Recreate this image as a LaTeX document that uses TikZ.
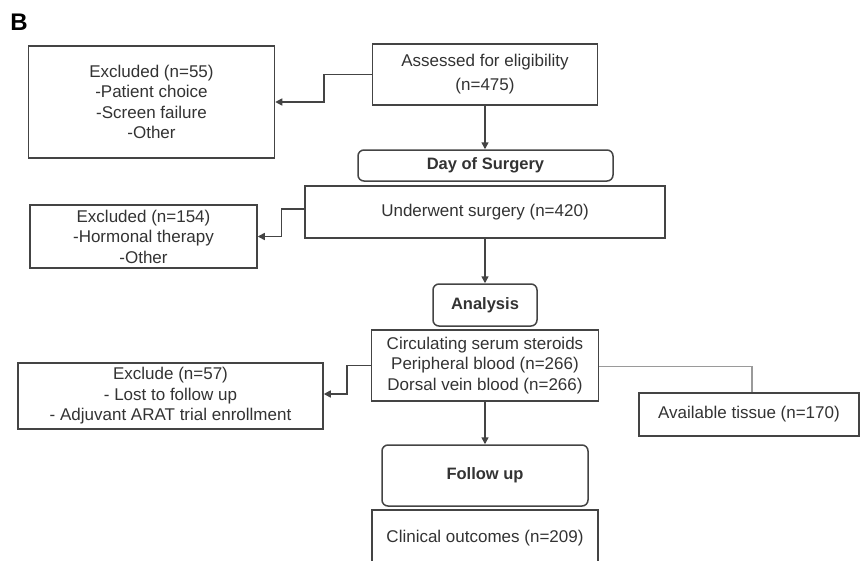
\documentclass[tikz,border=0pt]{standalone}
\usepackage{fontspec}
\setmainfont{Liberation Sans}
\usetikzlibrary{arrows.meta}
\definecolor{txt}{HTML}{333333}
\definecolor{ln}{HTML}{444444}
\definecolor{lgray}{HTML}{9A9A9A}
\begin{document}
\begin{tikzpicture}[x=1pt,y=-1pt,
  every node/.style={inner sep=0pt,align=center,text=txt,font=\fontsize{17}{20.5}\selectfont},
  box/.style={draw=ln,line width=1.5pt,rectangle},
  rbox/.style={draw=ln,line width=1.5pt,rectangle,rounded corners=6pt,font=\fontsize{16.5}{20}\selectfont\bfseries},
  arr/.style={draw=ln,line width=1.5pt,-{Triangle[width=7pt,length=7pt]}},
  conn/.style={draw=lgray,line width=1.2pt}]
\useasboundingbox (0,0) rectangle (860,560);
\clip (0,0) rectangle (860,560);
\fill[white] (0,0) rectangle (860,560);
\node[font=\fontsize{24}{26}\selectfont\bfseries,text=black] (lab) at (19,22) {B};
\node[box,minimum width=225pt,minimum height=61pt,font=\fontsize{17}{24}\selectfont] (assess) at (485,74.5) {Assessed for eligibility\\(n=475)};
\node[box,minimum width=246pt,minimum height=112pt] (ex1) at (151.5,102) {Excluded (n=55)\\-Patient choice\\-Screen failure\\-Other};
\node[rbox,minimum width=255pt,minimum height=31pt] (day) at (485.5,165.5) {Day of Surgery};
\node[box,minimum width=360pt,minimum height=52pt] (surg) at (485,212) {Underwent surgery (n=420)};
\node[box,minimum width=227pt,minimum height=63pt] (ex2) at (143.5,236.5) {Excluded (n=154)\\-Hormonal therapy\\-Other};
\node[rbox,minimum width=104pt,minimum height=42pt] (ana) at (485,305) {Analysis};
\node[box,minimum width=227pt,minimum height=71pt] (circ) at (485,365.5) {Circulating serum steroids\\Peripheral blood (n=266)\\Dorsal vein blood (n=266)};
\node[box,minimum width=305pt,minimum height=66pt] (ex3) at (170.5,396) {Exclude (n=57)\\- Lost to follow up\\- Adjuvant ARAT trial enrollment};
\node[box,minimum width=220pt,minimum height=43pt] (avail) at (749,414.5) {Available tissue (n=170)};
\node[rbox,minimum width=206pt,minimum height=61pt] (fu) at (485,475.5) {Follow up};
\node[box,minimum width=226pt,minimum height=56pt] (clin) at (485,538) {Clinical outcomes (n=209)};
\draw[arr] (assess.west) -- ++(-48,0) |- (ex1.east);
\draw[arr] (assess.south) -- (assess.south |- day.north);
\draw[arr] ([yshift=3pt]surg.west) -- ++(-23,0) |- (ex2.east);
\draw[arr] (surg.south) -- (ana.north);
\draw[arr] (circ.west) -- ++(-24,0) |- ([yshift=2pt]ex3.east);
\draw[conn] ([yshift=-1pt]circ.east) -| ([xshift=3pt]avail.north);
\draw[arr] (circ.south) -- (circ.south |- fu.north);
\end{tikzpicture}
\end{document}
